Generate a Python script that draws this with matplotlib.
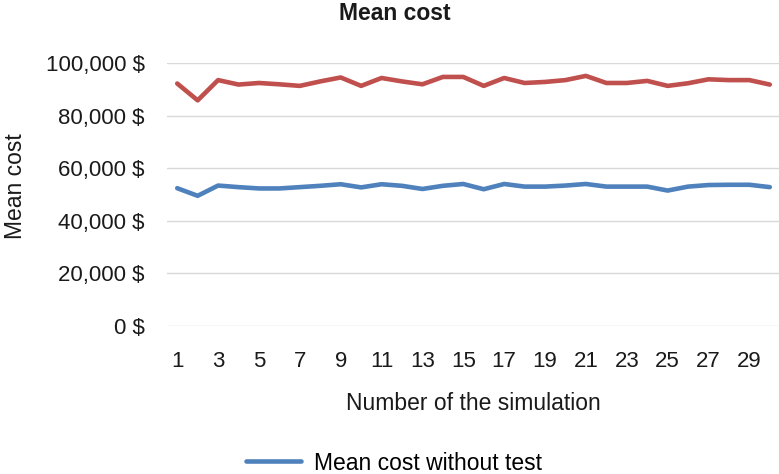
import matplotlib
matplotlib.use("Agg")
import matplotlib.pyplot as plt
from matplotlib.ticker import FuncFormatter

simulations = list(range(1, 31))
with_test = [92200, 85800, 93500, 91800, 92400, 91900, 91300, 93000, 94500, 91300,
             94300, 93000, 91900, 94700, 94700, 91300, 94300, 92400, 92800, 93500,
             95100, 92400, 92400, 93200, 91300, 92300, 93800, 93500, 93500, 91800]
without_test = [52400, 49500, 53400, 52800, 52300, 52300, 52800, 53300, 53900, 52700,
                53900, 53300, 52100, 53300, 54000, 52000, 54000, 53000, 53000, 53400,
                54000, 53000, 53000, 53000, 51500, 53000, 53600, 53700, 53700, 52800]
y_ticks = [0, 20000, 40000, 60000, 80000, 100000]
x_ticks = list(range(1, 30, 2))

plt.rcParams['font.family'] = ['Liberation Sans', 'DejaVu Sans']

W, H = 779, 474
fig = plt.figure(figsize=(W / 100, H / 100), dpi=100)
ax = fig.add_axes([167 / W, 1 - 326 / H, (779 - 167) / W, (326 - 63) / H])

ax.plot(simulations, with_test, color='#C0504D', lw=3.3, solid_capstyle='round',
        solid_joinstyle='round', label='Mean cost with test')
ax.plot(simulations, without_test, color='#4F81BD', lw=3.3, solid_capstyle='round',
        solid_joinstyle='round', label='Mean cost without test')

ax.set_ylim(0, 100000)
ax.set_xlim(0.5, 30.45)
ax.set_yticks(y_ticks)
ax.set_xticks(x_ticks)
ax.yaxis.set_major_formatter(FuncFormatter(lambda v, p: f"{int(v):,} $"))
ax.grid(axis='y', color='#D9D9D9', lw=1)
ax.set_axisbelow(True)
for s in ax.spines.values():
    s.set_visible(False)
ax.tick_params(axis='both', length=0, labelsize=16, colors='#1a1a1a')
ax.tick_params(axis='y', pad=16)
ax.tick_params(axis='x', pad=18)

fig.text(395 / W, 1 - 20 / H, 'Mean cost', fontsize=16.5, fontweight='bold',
         ha='center', va='baseline', color='#1a1a1a')
fig.text(473 / W, 1 - 410 / H, 'Number of the simulation', fontsize=16.5,
         ha='center', va='baseline', color='#1a1a1a')
fig.text(15 / W, 1 - 186 / H, 'Mean cost', fontsize=16.5, rotation=90,
         ha='center', va='center', color='#1a1a1a')

handles, labels = ax.get_legend_handles_labels()
fig.legend([handles[1]], [labels[1]], loc='center left',
           bbox_to_anchor=(246 / W, 1 - 463 / H), borderpad=0, borderaxespad=0,
           frameon=False, fontsize=16.5, handlelength=2.4, handletextpad=0.55)

fig.savefig('out.png', dpi=100)
